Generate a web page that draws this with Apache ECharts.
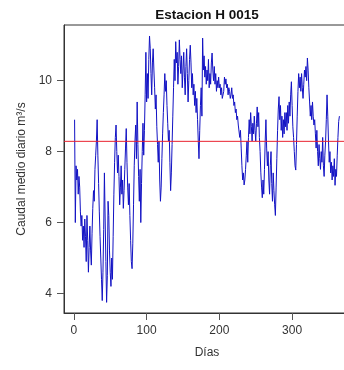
<!DOCTYPE html>
<html>
<head>
<meta charset="utf-8">
<script src="https://cdn.jsdelivr.net/npm/echarts@6/dist/echarts.min.js"></script>
<style>
  html, body { margin: 0; padding: 0; background: #ffffff; }
  #chart { width: 344px; height: 370px; }
</style>
</head>
<body>
<div id="chart"></div>
<script>
// Caudal medio diario (m³/s), día 1 .. 365
const caudal = [
  8.9, 6.0, 7.6, 7.2, 7.5, 6.8, 7.3, 7.0, 6.3, 5.9,
  6.2, 5.5, 5.9, 5.3, 6.1, 5.6, 4.9, 6.2, 5.5, 4.6,
  5.3, 5.9, 5.2, 4.8, 5.7, 6.4, 6.9, 6.6, 7.5, 7.9,
  8.3, 8.9, 7.9, 7.1, 6.3, 5.6, 5.0, 4.4, 3.8, 4.6,
  5.8, 7.4, 6.1, 4.9, 3.75, 4.5, 6.6, 6.2, 5.2, 4.6,
  4.2, 5.0, 4.4, 5.6, 6.8, 7.7, 8.4, 8.75, 8.0, 7.4,
  7.9, 7.3, 6.5, 7.0, 7.6, 6.8, 7.2, 6.4, 6.9, 7.5,
  8.1, 8.65, 7.7, 7.0, 6.5, 7.1, 6.2, 5.5, 4.9, 4.7,
  5.4, 6.5, 7.6, 8.3, 8.75, 7.8, 9.4, 8.2, 7.3, 6.6,
  7.5, 6.0, 7.1, 8.0, 8.8, 7.9, 8.6, 9.6, 10.8, 9.4,
  10.2, 9.5, 10.6, 11.26, 10.9, 10.2, 9.6, 10.5, 10.9, 10.3,
  9.8, 9.2, 9.6, 8.7, 8.2, 7.7, 8.3, 7.2, 6.6, 7.0,
  7.8, 8.5, 9.1, 9.6, 10.2, 9.7, 10.0, 9.3, 8.8, 8.3,
  8.6, 7.7, 6.9, 7.4, 8.2, 9.0, 9.8, 10.6, 10.0, 11.1,
  10.5, 10.8, 9.9, 10.4, 11.15, 10.6, 10.2, 10.7, 9.8, 10.3,
  10.8, 10.1, 9.6, 10.4, 10.9, 10.2, 9.4, 10.0, 10.6, 11.0,
  10.5, 9.8, 10.2, 9.6, 9.9, 9.3, 9.7, 9.1, 9.5, 8.9,
  8.3, 7.8, 8.6, 9.3, 9.8, 9.0, 11.2, 10.3, 10.7, 10.1,
  10.4, 9.9, 10.3, 10.0, 10.6, 9.8, 10.2, 9.9, 10.5, 10.78,
  10.3, 10.0, 10.4, 9.9, 10.2, 9.7, 10.0, 9.8, 10.1, 9.8,
  9.9, 9.6, 9.8, 9.5, 9.45, 9.7, 10.1, 9.9, 10.05, 9.8,
  9.9, 9.6, 9.8, 9.7, 9.5, 9.6, 9.8, 9.5, 9.6, 9.3,
  9.4, 9.1, 9.2, 8.9, 9.0, 8.75, 8.8, 8.4, 8.6, 8.1,
  7.6, 7.2, 7.4, 7.06, 7.2, 7.5, 7.9, 8.3, 7.7, 8.4,
  8.9, 8.5, 9.1, 8.7, 8.3, 8.8, 8.5, 9.0, 8.6, 8.3,
  8.8, 9.26, 8.7, 9.1, 8.4, 8.0, 7.4, 7.0, 6.7, 7.2,
  6.8, 7.5, 8.3, 8.9, 8.1, 7.6, 8.0, 7.2, 6.8, 7.6,
  8.0, 7.1, 6.6, 7.4, 6.9, 6.5, 6.2, 7.0, 7.8, 8.6,
  9.2, 9.55, 8.9, 9.3, 8.6, 9.0, 8.4, 8.9, 8.5, 9.1,
  8.7, 9.1, 8.6, 9.3, 8.8, 9.4, 9.0, 9.6, 9.97, 9.3,
  8.7, 8.4, 8.0, 7.6, 7.48, 8.2, 9.0, 9.7, 10.2, 9.8,
  10.1, 9.7, 10.2, 9.8, 9.5, 9.9, 10.3, 10.1, 10.4, 10.0,
  10.64, 10.3, 9.8, 9.4, 9.0, 9.3, 8.9, 9.4, 9.0, 8.75,
  8.9, 8.5, 8.1, 8.6, 8.0, 7.6, 8.2, 7.8, 7.5, 8.0,
  7.7, 8.4, 7.6, 7.3, 7.9, 8.3, 8.9, 9.6, 9.0, 8.3,
  7.7, 8.0, 7.4, 7.7, 7.2, 7.6, 7.3, 7.8, 7.05, 7.5,
  7.3, 7.9, 8.4, 8.85, 9.0
];

// Caudal medio del año (línea de referencia)
const caudalMedio = 8.29;

// Marcas de los ejes
const ticksDias = [0, 100, 200, 300];
const ticksCaudal = [4, 6, 8, 10];

// Rango de los ejes (datos más un 4 % a cada lado)
const rangoDias = [-13.56, 379.56];
const rangoCaudal = [3.45, 11.57];

// Número de día de cada observación
const dias = caudal.map((_, i) => i + 1);
const serie = dias.map((d, i) => [d, caudal[i]]);

// Línea horizontal del caudal medio, de borde a borde del eje X
const serieMedio = rangoDias.map(d => [d, caudalMedio]);

const fuente = '"Liberation Sans", Arial, sans-serif';
const colorTexto = '#333333';
const colorSerie = '#1212c4';
const colorMedio = '#e8212e';

const chart = echarts.init(document.getElementById('chart'), null, { renderer: 'canvas' });

chart.setOption({
  animation: false,
  backgroundColor: '#ffffff',
  title: {
    text: 'Estacion H 0015',
    left: 202,
    textAlign: 'center',
    top: 3,
    textStyle: { fontFamily: fuente, fontSize: 13.5, fontWeight: 'bold', color: '#111111' }
  },
  grid: {
    left: 64, top: 25, width: 286, height: 288,
    outerBoundsMode: 'none',
    containLabel: false,
    show: true, borderColor: '#333333', borderWidth: 1, backgroundColor: 'transparent'
  },
  xAxis: {
    type: 'value',
    min: rangoDias[0], max: rangoDias[1],
    name: 'Días',
    nameLocation: 'middle',
    nameGap: 34,
    nameTextStyle: { fontFamily: fuente, fontSize: 12, color: colorTexto },
    axisLine: { show: true, onZero: false, lineStyle: { color: '#333333', width: 1 } },
    axisTick: { show: true, length: 7, lineStyle: { color: '#555555' }, customValues: ticksDias },
    axisLabel: { margin: 12, fontFamily: fuente, fontSize: 12, color: colorTexto, customValues: ticksDias },
    splitLine: { show: false }
  },
  yAxis: {
    type: 'value',
    min: rangoCaudal[0], max: rangoCaudal[1],
    name: 'Caudal medio diario m³/s',
    nameLocation: 'middle',
    nameGap: 32,
    nameRotate: 90,
    nameTextStyle: { fontFamily: fuente, fontSize: 12, color: colorTexto },
    axisLine: { show: true, onZero: false, lineStyle: { color: '#333333', width: 1 } },
    axisTick: { show: true, length: 7, lineStyle: { color: '#555555' }, customValues: ticksCaudal },
    axisLabel: { margin: 12, fontFamily: fuente, fontSize: 12, color: colorTexto, customValues: ticksCaudal },
    splitLine: { show: false }
  },
  series: [
    {
      name: 'caudal',
      type: 'line',
      data: serie,
      showSymbol: false,
      symbol: 'none',
      color: colorSerie,
      lineStyle: { color: colorSerie, width: 1 },
      itemStyle: { color: colorSerie },
      silent: true,
      z: 2
    },
    {
      name: 'medio',
      type: 'line',
      data: serieMedio,
      showSymbol: false,
      symbol: 'none',
      color: colorMedio,
      lineStyle: { color: colorMedio, width: 1 },
      itemStyle: { color: colorMedio },
      silent: true,
      z: 3
    }
  ]
});
</script>
</body>
</html>
